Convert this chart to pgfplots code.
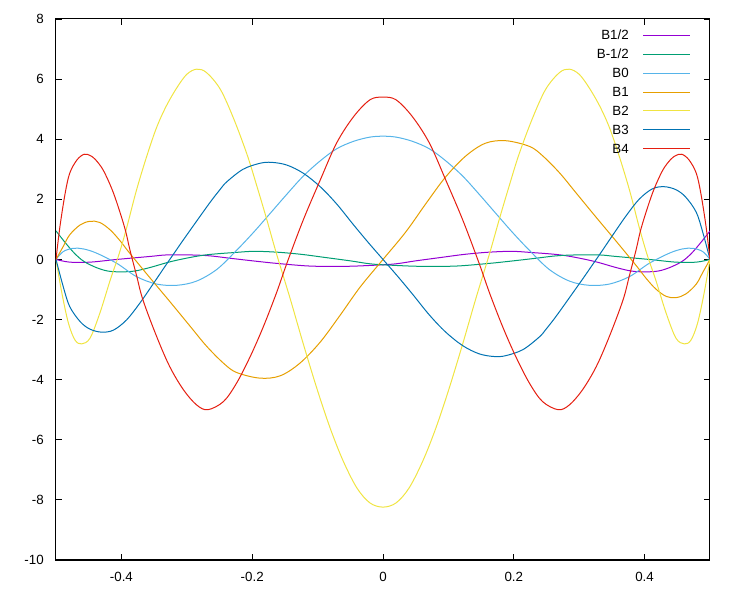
\documentclass[border=0pt]{standalone}
\usepackage{fontspec}
\setmainfont{Liberation Sans}
\usepackage{pgfplots}
\pgfplotsset{compat=1.18}
\definecolor{cHalf}{HTML}{9400D3}
\definecolor{cMHalf}{HTML}{009E73}
\definecolor{cB0}{HTML}{56B4E9}
\definecolor{cB1}{HTML}{E69F00}
\definecolor{cB2}{HTML}{F0E442}
\definecolor{cB3}{HTML}{0072B2}
\definecolor{cB4}{HTML}{E51E10}
\begin{document}
\begin{tikzpicture}[font=\fontsize{10}{12}\selectfont]
\useasboundingbox (-42pt,-30pt) rectangle (520.5pt,420pt);
\begin{axis}[
  at={(0,0)}, anchor=south west,
  scale only axis, width=490.5pt, height=405.75pt,
  xmin=-0.5, xmax=0.5, ymin=-10, ymax=8,
  xtick={-0.4,-0.2,0,0.2,0.4}, xticklabels={-0.4,-0.2,0,0.2,0.4},
  ytick={-10,-8,-6,-4,-2,0,2,4,6,8}, yticklabels={-10,-8,-6,-4,-2,0,2,4,6,8},
  tick align=inside, major tick length=4.5pt,
  axis line style={line width=0.75pt},
  tick style={black, line width=0.6pt},
  xticklabel style={inner sep=0pt, anchor=north, yshift=-8.8pt, font=\fontsize{10}{12}\selectfont},
  yticklabel style={inner sep=0pt, anchor=east, xshift=-9pt, font=\fontsize{10}{12}\selectfont},
  legend cell align=right, legend plot pos=right,
  legend image code/.code={\draw[#1] (0pt,0pt) -- (35.25pt,0pt);},
  legend style={draw=none, fill=none, at={(rel axis cs:1,1)}, anchor=north east,
    xshift=-14.25pt, yshift=-8.5pt, inner sep=0pt, row sep=7.2pt, column sep=10.5pt,
    font=\fontsize{10}{12}\selectfont,
    nodes={inner sep=0pt, text height=7pt, text depth=0pt}},
  every axis plot/.append style={line width=0.75pt, smooth, tension=0.55},
]
% B1/2
\addplot[cHalf] coordinates {
(-0.5,0) (-0.479,-0.09) (-0.448,-0.09) (-0.407,0) (-0.356,0.1) (-0.331,0.15) (-0.295,0.15)
(-0.265,0.12) (-0.234,0.04) (-0.198,-0.05) (-0.163,-0.13) (-0.112,-0.22) (-0.06,-0.23)
(-0.02,-0.2) (0.018,-0.15) (0.049,-0.05) (0.09,0.07) (0.125,0.17) (0.161,0.24) (0.197,0.27)
(0.227,0.23) (0.263,0.17) (0.289,0.09) (0.324,-0.07) (0.36,-0.29) (0.385,-0.4) (0.416,-0.4)
(0.436,-0.29) (0.457,-0.07) (0.472,0.21) (0.487,0.59) (0.5,0.95)
};
\addlegendentry{B1/2}
% B-1/2
\addplot[cMHalf] coordinates {
(-0.5,0.95) (-0.487,0.59) (-0.472,0.21) (-0.457,-0.07) (-0.436,-0.29) (-0.416,-0.4) (-0.385,-0.4)
(-0.36,-0.29) (-0.324,-0.07) (-0.289,0.09) (-0.263,0.17) (-0.227,0.23) (-0.197,0.27) (-0.161,0.24)
(-0.125,0.17) (-0.09,0.07) (-0.049,-0.05) (-0.018,-0.15) (0.02,-0.2) (0.06,-0.23) (0.112,-0.22)
(0.163,-0.13) (0.198,-0.05) (0.234,0.04) (0.265,0.12) (0.295,0.15) (0.331,0.15) (0.356,0.1)
(0.407,0) (0.448,-0.09) (0.479,-0.09) (0.5,0)
};
\addlegendentry{B-1/2}
% B0
\addplot[cB0] coordinates {
(-0.5,0) (-0.489,0.26) (-0.474,0.37) (-0.458,0.35) (-0.438,0.21) (-0.407,-0.13) (-0.377,-0.57)
(-0.346,-0.82) (-0.315,-0.86) (-0.285,-0.72) (-0.254,-0.33) (-0.224,0.3) (-0.198,0.9)
(-0.173,1.52) (-0.147,2.17) (-0.122,2.77) (-0.096,3.28) (-0.071,3.68) (-0.045,3.93) (-0.02,4.07)
(0,4.1)
(0.02,4.07) (0.045,3.93) (0.071,3.68) (0.096,3.28) (0.122,2.77) (0.147,2.17) (0.173,1.52)
(0.198,0.9) (0.224,0.3) (0.254,-0.33) (0.285,-0.72) (0.315,-0.86) (0.346,-0.82) (0.377,-0.57)
(0.407,-0.13) (0.438,0.21) (0.458,0.35) (0.474,0.37) (0.489,0.26) (0.5,0)
};
\addlegendentry{B0}
% B1
\addplot[cB1] coordinates {
(-0.5,0) (-0.489,0.43) (-0.479,0.82) (-0.463,1.15) (-0.448,1.27) (-0.433,1.23) (-0.417,0.98)
(-0.402,0.62) (-0.387,0.2) (-0.356,-0.62) (-0.326,-1.4) (-0.295,-2.22) (-0.27,-2.88)
(-0.244,-3.45) (-0.224,-3.76) (-0.188,-3.95) (-0.157,-3.87) (-0.127,-3.45) (-0.096,-2.75)
(-0.066,-1.87) (-0.035,-0.92) (0,0)
(0.035,0.92) (0.066,1.87) (0.096,2.75) (0.127,3.45) (0.157,3.87) (0.188,3.95) (0.224,3.76)
(0.244,3.45) (0.27,2.88) (0.295,2.22) (0.326,1.4) (0.356,0.62) (0.387,-0.2) (0.402,-0.62)
(0.417,-0.98) (0.433,-1.23) (0.448,-1.27) (0.463,-1.15) (0.479,-0.82) (0.489,-0.43) (0.5,0)
};
\addlegendentry{B1}
% B2
\addplot[cB2] coordinates {
(-0.5,0) (-0.491,-1.12) (-0.481,-2.12) (-0.471,-2.68) (-0.461,-2.81) (-0.448,-2.62)
(-0.433,-1.79) (-0.417,-0.68) (-0.404,0.15) (-0.392,1.05) (-0.377,2.3) (-0.361,3.45)
(-0.346,4.4) (-0.331,5.12) (-0.315,5.72) (-0.3,6.16) (-0.285,6.33) (-0.27,6.22) (-0.249,5.67)
(-0.229,4.72) (-0.208,3.5) (-0.193,2.45) (-0.178,1.35) (-0.163,0.2) (-0.142,-1.3)
(-0.122,-2.8) (-0.101,-4.3) (-0.081,-5.6) (-0.061,-6.7) (-0.04,-7.6) (-0.02,-8.1) (0,-8.24)
(0.02,-8.1) (0.04,-7.6) (0.061,-6.7) (0.081,-5.6) (0.101,-4.3) (0.122,-2.8) (0.142,-1.3)
(0.163,0.2) (0.178,1.35) (0.193,2.45) (0.208,3.5) (0.229,4.72) (0.249,5.67) (0.27,6.22)
(0.285,6.33) (0.3,6.16) (0.315,5.72) (0.331,5.12) (0.346,4.4) (0.361,3.45) (0.377,2.3)
(0.392,1.05) (0.404,0.15) (0.417,-0.68) (0.433,-1.79) (0.448,-2.62) (0.461,-2.81) (0.471,-2.68)
(0.481,-2.12) (0.491,-1.12) (0.5,0)
};
\addlegendentry{B2}
% B3
\addplot[cB3] coordinates {
(-0.5,0) (-0.489,-0.9) (-0.479,-1.57) (-0.463,-2.07) (-0.448,-2.32) (-0.43,-2.42) (-0.412,-2.35)
(-0.392,-2.01) (-0.372,-1.46) (-0.351,-0.8) (-0.333,-0.22) (-0.318,0.25) (-0.305,0.66)
(-0.275,1.58) (-0.262,1.97) (-0.249,2.33) (-0.239,2.58) (-0.214,3.0) (-0.188,3.2) (-0.17,3.23)
(-0.147,3.14) (-0.122,2.87) (-0.096,2.42) (-0.071,1.85) (-0.045,1.15) (-0.022,0.55) (0,0)
(0.022,-0.55) (0.045,-1.15) (0.071,-1.85) (0.096,-2.42) (0.122,-2.87) (0.147,-3.14) (0.17,-3.23)
(0.188,-3.2) (0.214,-3.0) (0.239,-2.58) (0.249,-2.33) (0.262,-1.97) (0.275,-1.58) (0.305,-0.66)
(0.318,-0.25) (0.333,0.22) (0.351,0.8) (0.372,1.46) (0.392,2.01) (0.412,2.35) (0.43,2.42)
(0.448,2.32) (0.463,2.07) (0.479,1.57) (0.489,0.9) (0.5,0)
};
\addlegendentry{B3}
% B4
\addplot[cB4] coordinates {
(-0.5,0) (-0.494,1.09) (-0.486,2.2) (-0.479,2.87) (-0.468,3.31) (-0.457,3.5) (-0.448,3.46)
(-0.44,3.33) (-0.428,2.98) (-0.415,2.37) (-0.405,1.76) (-0.394,0.98) (-0.387,0.32) (-0.377,-0.52)
(-0.367,-1.35) (-0.346,-2.57) (-0.326,-3.57) (-0.305,-4.34) (-0.285,-4.84) (-0.268,-5.0)
(-0.244,-4.73) (-0.224,-4.12) (-0.203,-3.23) (-0.183,-2.24) (-0.163,-1.12) (-0.147,-0.13)
(-0.122,1.31) (-0.096,2.64) (-0.071,3.87) (-0.045,4.75) (-0.02,5.31) (0,5.4)
(0.02,5.31) (0.045,4.75) (0.071,3.87) (0.096,2.64) (0.122,1.31) (0.147,-0.13) (0.163,-1.12)
(0.183,-2.24) (0.203,-3.23) (0.224,-4.12) (0.244,-4.73) (0.268,-5.0) (0.285,-4.84) (0.305,-4.34)
(0.326,-3.57) (0.346,-2.57) (0.367,-1.35) (0.377,-0.52) (0.387,0.32) (0.394,0.98) (0.405,1.76)
(0.415,2.37) (0.428,2.98) (0.44,3.33) (0.448,3.46) (0.457,3.5) (0.468,3.31) (0.479,2.87)
(0.486,2.2) (0.494,1.09) (0.5,0)
};
\addlegendentry{B4}
\end{axis}
\end{tikzpicture}
\end{document}
